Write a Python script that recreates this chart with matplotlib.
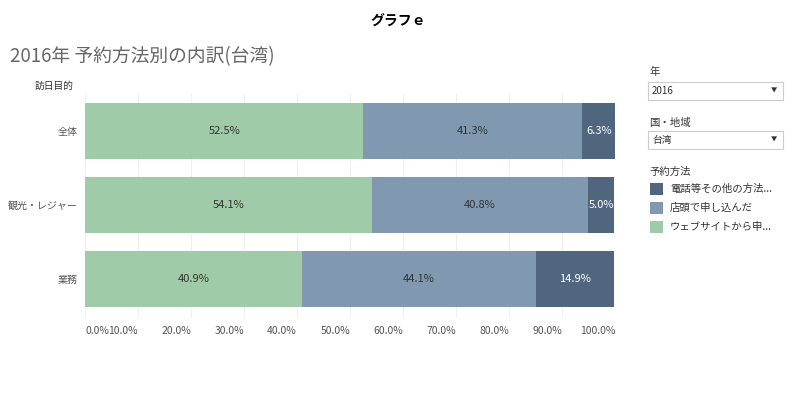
import numpy as np
import matplotlib
matplotlib.use('Agg')
import matplotlib.pyplot as plt
from matplotlib.patches import Rectangle

plt.rcParams['font.family'] = ['Noto Sans CJK JP', 'DejaVu Sans']

# data
purposes = ['全体', '観光・レジャー', '業務']
web = [52.5, 54.1, 40.9]
store = [41.3, 40.8, 44.1]
phone = [6.3, 5.0, 14.9]
legend_names = ['電話等その他の方法...', '店頭で申し込んだ', 'ウェブサイトから申...']
xticks = [0, 10, 20, 30, 40, 50, 60, 70, 80, 90, 100]

c_web = '#a0cba8'
c_store = '#8199b0'
c_phone = '#4f667e'
gray = '#555555'

W, H = 796, 396
fig = plt.figure(figsize=(W / 100, H / 100), dpi=100)

def fx(px):
    return px / W

def fy(py):
    return 1 - py / H

ax = fig.add_axes([fx(85), fy(318), fx(615) - fx(85), fy(93) - fy(318)])

y = np.arange(len(purposes))
h = 0.76
lefts = np.zeros(len(purposes))
for vals, col, tcol in [(web, c_web, '#333333'), (store, c_store, '#333333'), (phone, c_phone, 'white')]:
    vals = np.array(vals)
    ax.barh(y, vals, left=lefts, height=h, color=col, edgecolor='none', zorder=2)
    for yi, l, v in zip(y, lefts, vals):
        ax.text(l + v / 2, yi, f'{v:.1f}%', ha='center', va='center', fontsize=8, color=tcol, zorder=3)
    lefts = lefts + vals

ax.set_xlim(0, 100)
ax.set_ylim(2.53, -0.51)
ax.set_yticks(y)
ax.set_yticklabels(purposes, fontsize=7.2, color=gray)
ax.set_xticks(xticks)
ax.set_xticklabels([f'{t:.1f}%' for t in xticks], fontsize=7.5, color=gray)
for i, lab in enumerate(ax.get_xticklabels()):
    lab.set_ha('left' if i == 0 else 'right')
ax.tick_params(axis='x', length=0, pad=6)
ax.tick_params(axis='y', length=0, pad=5)
ax.grid(axis='x', color='#f0f0f0', linewidth=0.8, zorder=0)
for s in ax.spines.values():
    s.set_visible(False)

# titles
fig.text(fx(398), fy(22), 'グラフｅ', ha='center', va='center', fontsize=10, fontweight='bold', color='black')
fig.text(fx(10), fy(57), '2016年 予約方法別の内訳(台湾)', ha='left', va='center', fontsize=13.5, color='#666666')
fig.text(fx(35), fy(86), '訪日目的', ha='left', va='center', fontsize=7, color='#333333')

# filter widgets on the right
fig.text(fx(649), fy(72), '年', ha='left', va='center', fontsize=7.5, color='#333333')
fig.patches.append(Rectangle((fx(648), fy(100)), fx(783) - fx(648), fy(82) - fy(100),
                             transform=fig.transFigure, facecolor='white', edgecolor='#cccccc', linewidth=0.8))
fig.text(fx(652), fy(91), '2016', ha='left', va='center', fontsize=7, color='#333333')
fig.text(fx(774), fy(91), '▼', ha='center', va='center', fontsize=4.5, color='#333333')

fig.text(fx(649), fy(123), '国・地域', ha='left', va='center', fontsize=7.5, color='#333333')
fig.patches.append(Rectangle((fx(648), fy(149)), fx(783) - fx(648), fy(131) - fy(149),
                             transform=fig.transFigure, facecolor='white', edgecolor='#cccccc', linewidth=0.8))
fig.text(fx(652), fy(140), '台湾', ha='left', va='center', fontsize=7, color='#333333')
fig.text(fx(774), fy(140), '▼', ha='center', va='center', fontsize=4.5, color='#333333')

fig.text(fx(649), fy(172), '予約方法', ha='left', va='center', fontsize=7.5, color='#333333')
for i, (name, col) in enumerate(zip(legend_names, [c_phone, c_store, c_web])):
    yc = 189 + i * 19
    fig.patches.append(Rectangle((fx(650), fy(yc + 6)), fx(663) - fx(650), fy(yc - 6) - fy(yc + 6),
                                 transform=fig.transFigure, facecolor=col, edgecolor='none'))
    fig.text(fx(670), fy(yc), name, ha='left', va='center', fontsize=7.5, color='#333333')

fig.savefig('out.png', dpi=100)
